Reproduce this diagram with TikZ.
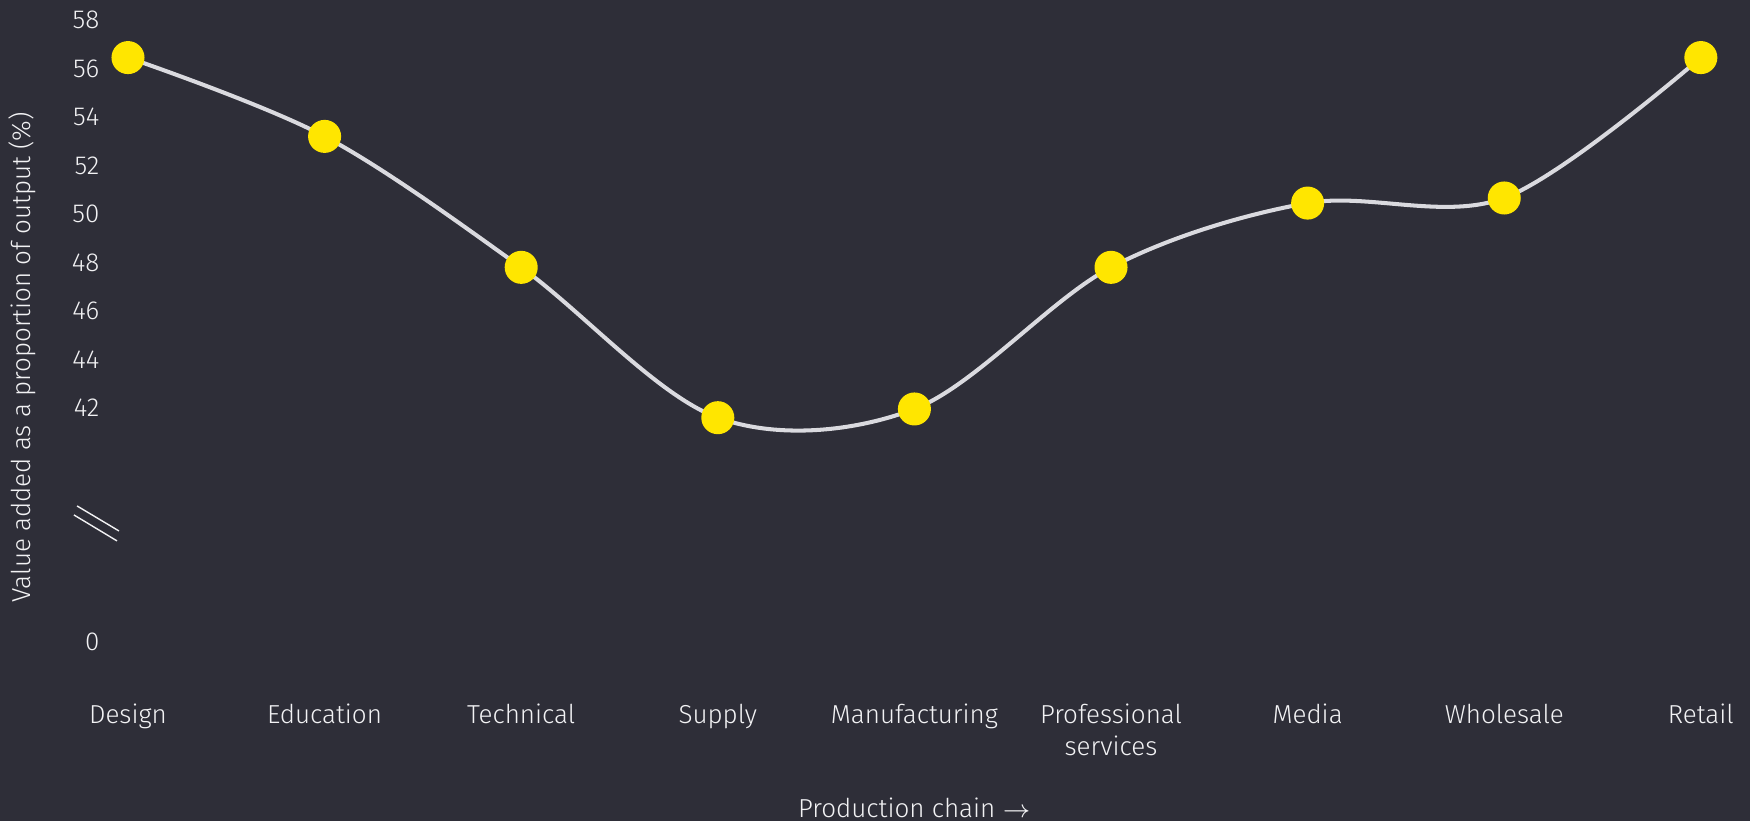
\documentclass[tikz,border=0pt]{standalone}
\usepackage{fontspec}
\setmainfont{Fira Sans}[UprightFont=* Light]

\definecolor{chartbg}{HTML}{2E2E38}
\definecolor{chartyellow}{HTML}{FFE600}
\definecolor{chartline}{HTML}{DADADF}
\definecolor{charttext}{HTML}{F2F2F4}

\tikzset{
  chartlabel/.style={text=charttext, font=\fontsize{7.4}{9.1}\selectfont, inner sep=0pt},
  ticklabel/.style={chartlabel, anchor=east},
  catlabel/.style={chartlabel, anchor=base, align=center},
  dot/.style={circle, fill=chartyellow, minimum size=9.4pt, inner sep=0pt},
  curve/.style={chartline, line width=1.15pt},
}

\begin{document}
\begin{tikzpicture}[x=1.966cm, y=0.2425cm]

\fill [chartbg] (-0.651,24.969) rectangle (8.250,58.825);


\node [ticklabel] (tick-58) at (-0.142,58){58};
\node [ticklabel] (tick-56) at (-0.142,56){56};
\node [ticklabel] (tick-54) at (-0.142,54){54};
\node [ticklabel] (tick-52) at (-0.142,52){52};
\node [ticklabel] (tick-50) at (-0.142,50){50};
\node [ticklabel] (tick-48) at (-0.142,48){48};
\node [ticklabel] (tick-46) at (-0.142,46){46};
\node [ticklabel] (tick-44) at (-0.142,44){44};
\node [ticklabel] (tick-42) at (-0.142,42){42};
\node [ticklabel] (tick-0) at (-0.142,32.35){0};

%axis break
\coordinate (break-a1) at (-0.259,37.96);
\coordinate (break-a2) at (-0.046,36.93);
\coordinate (break-b1) at (-0.275,37.59);
\coordinate (break-b2) at (-0.056,36.52);
\draw [charttext, line width=0.4pt] (break-a1) -- (break-a2);
\draw [charttext, line width=0.4pt] (break-b1) -- (break-b2);

\node [chartlabel, rotate=90] (axis-value) at (-0.539,44.1){Value added as a proportion of output (\%)};



\coordinate (pt-design) at (0,56.45);
\coordinate (pt-education) at (1,53.2);
\coordinate (pt-technical) at (2,47.8);
\coordinate (pt-supply) at (3,41.6);
\coordinate (pt-manufacturing) at (4,41.96);
\coordinate (pt-professional) at (5,47.8);
\coordinate (pt-media) at (6,50.45);
\coordinate (pt-wholesale) at (7,50.66);
\coordinate (pt-retail) at (8,56.45);

\draw [curve] plot [smooth, tension=0.55] coordinates {(pt-design) (pt-education) (pt-technical) (pt-supply) (pt-manufacturing) (pt-professional) (pt-media) (pt-wholesale) (pt-retail)};

\node [dot] (dot-design) at (pt-design){};
\node [dot] (dot-education) at (pt-education){};
\node [dot] (dot-technical) at (pt-technical){};
\node [dot] (dot-supply) at (pt-supply){};
\node [dot] (dot-manufacturing) at (pt-manufacturing){};
\node [dot] (dot-professional) at (pt-professional){};
\node [dot] (dot-media) at (pt-media){};
\node [dot] (dot-wholesale) at (pt-wholesale){};
\node [dot] (dot-retail) at (pt-retail){};



\node [catlabel] (chain-design) at (0,29.01){Design};
\node [catlabel] (chain-education) at (1,29.01){Education};
\node [catlabel] (chain-technical) at (2,29.01){Technical};
\node [catlabel] (chain-supply) at (3,29.01){Supply};
\node [catlabel] (chain-manufacturing) at (4,29.01){Manufacturing};
\node [catlabel, anchor=north] (chain-professional) at (5,29.81){Professional\\services};
\node [catlabel] (chain-media) at (6,29.01){Media};
\node [catlabel] (chain-wholesale) at (7,29.01){Wholesale};
\node [catlabel] (chain-retail) at (8,29.01){Retail};

\node [catlabel] (axis-chain) at (4,25.13){Production chain $\rightarrow$};

%%%%%%%%%%%%%%%%%%%%%%%%%%%%%%%%%%%%%%%%%%%%%%%%%%%%%%%%%%%%%%%%%

\end{tikzpicture}
\end{document}
